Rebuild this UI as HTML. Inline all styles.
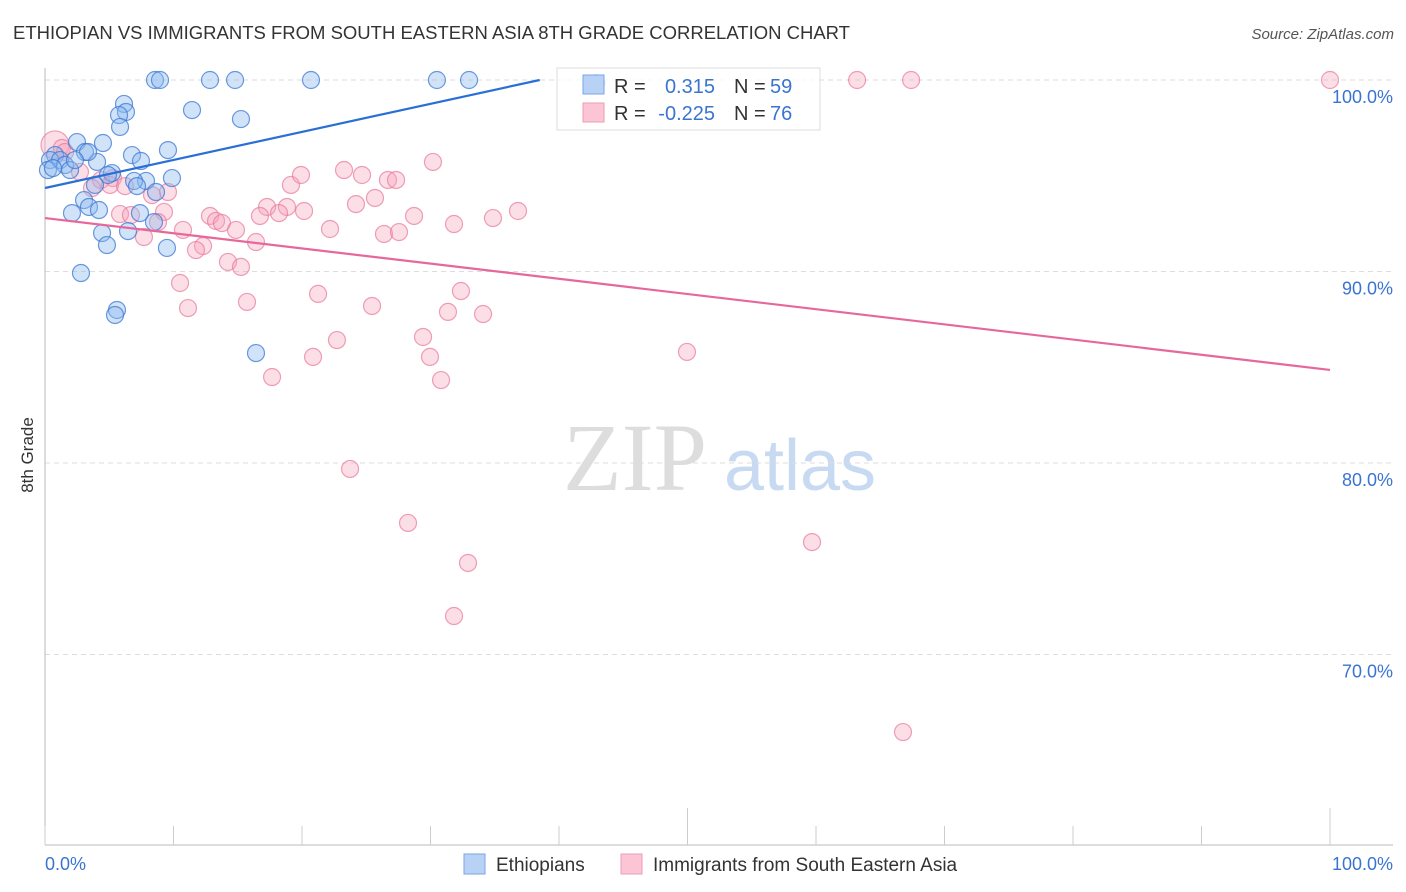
<!DOCTYPE html>
<html><head><meta charset="utf-8">
<style>
body{margin:0;background:#fff;font-family:"Liberation Sans",sans-serif;}
svg{display:block}
</style></head>
<body>
<svg id="chart" width="1406" height="892" xmlns="http://www.w3.org/2000/svg">
<text x="13" y="39" font-size="18" fill="#333" textLength="837" lengthAdjust="spacingAndGlyphs">ETHIOPIAN VS IMMIGRANTS FROM SOUTH EASTERN ASIA 8TH GRADE CORRELATION CHART</text>
<text x="1394" y="39" font-size="15" fill="#555" font-style="italic" text-anchor="end">Source: ZipAtlas.com</text>
<text x="33" y="455" font-size="17" fill="#333" transform="rotate(-90 33 455)" text-anchor="middle">8th Grade</text>
<g>
<text x="635" y="490" font-size="96" fill="#ddd" font-family="Liberation Serif,serif" text-anchor="middle">ZIP</text>
<text x="800" y="490" font-size="72" fill="#c8daf2" text-anchor="middle">atlas</text>
</g>
<g id="grid"></g>
<g id="axes"></g>
<g id="marks"></g>
<g>
<rect x="557" y="68" width="263" height="62" fill="#fff" fill-opacity="0.75" stroke="#ddd"/>
<rect x="583" y="75" width="21" height="19" fill="#b8d2f5" stroke="#7aa6e6"/>
<rect x="583" y="103" width="21" height="19" fill="#fbc5d5" stroke="#ee9db5"/>
<text x="614" y="93" font-size="20" fill="#333">R =</text>
<text x="715" y="93" font-size="20" fill="#3a74d0" text-anchor="end">0.315</text>
<text x="734" y="93" font-size="20" fill="#333">N =</text>
<text x="770" y="93" font-size="20" fill="#3a74d0">59</text>
<text x="614" y="120" font-size="20" fill="#333">R =</text>
<text x="715" y="120" font-size="20" fill="#3a74d0" text-anchor="end">-0.225</text>
<text x="734" y="120" font-size="20" fill="#333">N =</text>
<text x="770" y="120" font-size="20" fill="#3a74d0">76</text>
</g>
<g>
<rect x="464" y="854" width="21" height="20" fill="#b8d2f5" stroke="#7aa6e6"/>
<text x="496" y="871" font-size="19" fill="#333">Ethiopians</text>
<rect x="621" y="854" width="21" height="20" fill="#fbc5d5" stroke="#ee9db5"/>
<text x="653" y="871" font-size="19" fill="#333">Immigrants from South Eastern Asia</text>
</g>
</svg>
<script>
const blueX=[8.56,8.95,12.84,14.79,20.7,30.5,33.0,42.9,6.15,6.3,5.76,5.84,11.44,15.25,4.51,2.49,9.57,6.77,7.47,4.05,3.11,3.35,0.78,0.39,1.17,1.56,1.95,2.33,0.23,0.62,5.21,4.9,9.88,7.86,6.93,7.16,3.89,8.64,3.04,3.42,4.2,2.1,7.39,8.48,4.44,6.46,4.82,9.49,2.8,5.6,5.45,16.42];
const blueY=[100,100,100,100,100,100,100,99.84,98.75,98.33,98.17,97.55,98.43,97.96,96.71,96.76,96.34,96.08,95.77,95.72,96.24,96.24,96.08,95.82,95.82,95.56,95.3,95.82,95.3,95.4,95.14,95.04,94.88,94.73,94.73,94.46,94.52,94.15,93.73,93.37,93.21,93.05,93.05,92.58,92.01,92.11,91.38,91.23,89.92,87.99,87.73,85.74];
const pinkX=[63.2,67.4,100,0.78,1.32,1.56,2.72,5.29,4.36,5.06,6.23,9.57,8.33,3.66,19.14,19.92,23.27,24.67,26.69,27.32,30.19,25.68,24.2,18.83,17.28,20.16,18.21,16.73,12.84,13.31,13.77,14.86,10.74,9.26,5.84,6.69,8.79,7.7,12.3,11.75,14.24,15.25,16.42,22.18,26.38,27.55,28.72,31.83,34.86,36.81,10.51,11.13,15.72,21.25,25.45,32.37,31.36,34.09,29.42,29.96,30.82,20.86,17.67,22.72,49.96,23.74,28.25,32.92,59.69,31.83,66.77];
const pinkY=[100,100,100,96.61,96.45,96.24,95.2,94.88,94.78,94.52,94.46,94.15,93.99,94.36,94.52,95.04,95.3,95.04,94.78,94.78,95.72,93.84,93.52,93.37,93.37,93.16,93.05,92.9,92.9,92.64,92.53,92.17,92.17,93.11,93.0,92.95,92.58,91.8,91.33,91.12,90.5,90.24,91.54,92.22,91.96,92.06,92.9,92.48,92.79,93.16,89.4,88.09,88.41,88.83,88.2,88.98,87.89,87.78,86.58,85.54,84.33,85.54,84.49,86.42,85.8,79.69,76.87,74.78,75.87,72.01,65.95];
const yTicks=[100,90,80,70];
const yTickLabels=["100.0%","90.0%","80.0%","70.0%"];
const xTicks=[0,10,20,30,40,50,60,70,80,90,100];
const blueTrend=[0,94.36,38.5,100];
const pinkTrend=[0,92.79,100,84.86];

const NS="http://www.w3.org/2000/svg";
const sx=v=>45+v*12.85;
const sy=v=>80+(100-v)*19.15;
function mk(tag,attrs,parent){const e=document.createElementNS(NS,tag);for(const k in attrs)e.setAttribute(k,attrs[k]);parent.appendChild(e);return e;}
const grid=document.getElementById('grid'),axes=document.getElementById('axes'),marks=document.getElementById('marks');
yTicks.forEach((t,i)=>{
 const l=mk('line',{x1:45,x2:1393,y1:sy(t),y2:sy(t),stroke:'#ddd','stroke-dasharray':'5,4'},grid);
 
 
 const tx=mk('text',{x:1393,y:sy(t)+23,'font-size':18,fill:'#3a74d0','text-anchor':'end'},axes);
 tx.textContent=yTickLabels[i];
 
 
});
const ax=mk('line',{x1:45,x2:1393,y1:845,y2:845,stroke:'#bbb'},axes);


const ay=mk('line',{x1:45,x2:45,y1:68,y2:845,stroke:'#bbb'},axes);


xTicks.forEach(t=>{
 const l=mk('line',{x1:sx(t),x2:sx(t),y1:(t===50||t===100)?808:826,y2:845,stroke:'#ccc'},axes);
 
 
});
const xl0=mk('text',{x:45,y:870,'font-size':18,fill:'#3a74d0'},axes);xl0.textContent='0.0%';


const xl1=mk('text',{x:1393,y:870,'font-size':18,fill:'#3a74d0','text-anchor':'end'},axes);xl1.textContent='100.0%';



pinkX.forEach((x,i)=>{
 const c=mk('circle',{cx:sx(x),cy:sy(pinkY[i]),r:i===3?14:8.5,fill:'rgba(245,160,185,0.35)',stroke:'rgba(232,120,155,0.7)','stroke-width':1.2},marks);
 
 
});
blueX.forEach((x,i)=>{
 const c=mk('circle',{cx:sx(x),cy:sy(blueY[i]),r:8.5,fill:'rgba(140,185,240,0.4)',stroke:'rgba(60,120,210,0.75)','stroke-width':1.2},marks);
 
 
});
const bl=mk('line',{x1:sx(blueTrend[0]),y1:sy(blueTrend[1]),x2:sx(blueTrend[2]),y2:sy(blueTrend[3]),stroke:'#2a6fd6','stroke-width':2.2},marks);


const pl=mk('line',{x1:sx(pinkTrend[0]),y1:sy(pinkTrend[1]),x2:sx(pinkTrend[2]),y2:sy(pinkTrend[3]),stroke:'#e6689a','stroke-width':2.2},marks);


</script>
</body></html>
